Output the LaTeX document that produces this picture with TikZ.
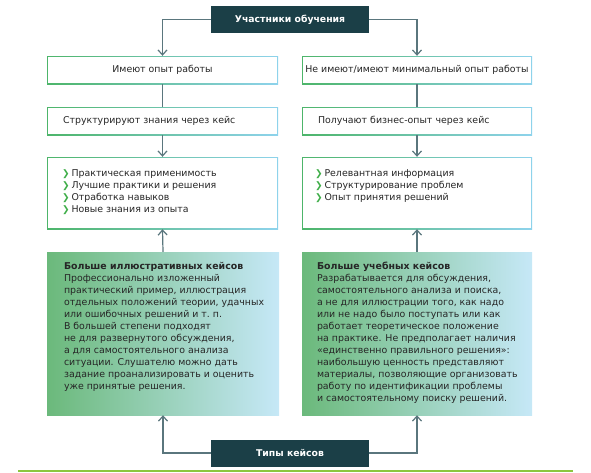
\documentclass[tikz,border=0pt]{standalone}
\usepackage{fontspec}
\setmainfont{DejaVu Sans}
\usetikzlibrary{arrows.meta}

\definecolor{headfill}{HTML}{1B3F47}
\definecolor{conngray}{HTML}{5A767D}
\definecolor{bordgreen}{HTML}{4DB56A}
\definecolor{bordblue}{HTML}{8ED3EC}
\definecolor{casegreen}{HTML}{6BB97B}
\definecolor{caseblue}{HTML}{C6E8F7}
\definecolor{chevgreen}{HTML}{3FAE49}
\definecolor{footgreen}{HTML}{8CC63F}

\newcommand{\chev}{{\color{chevgreen}\fontsize{9pt}{12pt}\selectfont\bfseries ❯}\hspace{2pt}}

\tikzset{
  bodyfont/.style={font={\fontsize{9.4pt}{12pt}\selectfont}},
  headbox/.style={fill=headfill, text=white, inner sep=0,
    minimum width=158, minimum height=27,
    font={\fontsize{9.3pt}{12pt}\selectfont\bfseries}},
  rowbox/.style={left color=bordgreen, right color=bordblue, inner sep=0,
    bodyfont, text=black!85,
    path picture={\fill[white]
      ([shift={(1pt,1pt)}]path picture bounding box.south west) rectangle
      ([shift={(-1pt,-1pt)}]path picture bounding box.north east);}},
  casebox/.style={left color=casegreen, right color=caseblue, inner sep=0},
  txt/.style={bodyfont, text=black!85, align=left, inner sep=0, anchor=north west},
  conn/.style={conngray, line width=1.2pt},
  arr/.style={conn, -{Straight Barb[length=5pt,width=9pt]}}
}

\begin{document}
\begin{tikzpicture}[x=1pt, y=-1pt]

  \useasboundingbox (0,0) rectangle (591,472);

  % top and bottom headers
  \node[headbox] (head) at (290,19.5) {Участники обучения};
  \node[headbox] (types) at (290,453) {Типы кейсов};

  % first row
  \node[rowbox, minimum width=231, minimum height=28] (l1) at (162.5,70)
    {Имеют опыт работы};
  \node[rowbox, minimum width=230, minimum height=28] (r1) at (417,70)
    {Не имеют/имеют минимальный опыт работы};

  % second row
  \node[rowbox, minimum height=28, inner xsep=16, text width=199, align=left]
    (l2) at (162.5,121) {Структурируют знания через кейс};
  \node[rowbox, minimum height=28, inner xsep=16, text width=198, align=left]
    (r2) at (417,121) {Получают бизнес-опыт через кейс};

  % third row
  \node[rowbox, minimum width=231, minimum height=72] (l3) at (162.5,193) {};
  \node[rowbox, minimum width=230, minimum height=72] (r3) at (417,193) {};

  \node[txt] (l3txt) at ([shift={(15,12.5)}]l3.north west)
    {\chev Практическая применимость\\
     \chev Лучшие практики и решения\\
     \chev Отработка навыков\\
     \chev Новые знания из опыта};
  \node[txt] (r3txt) at ([shift={(13,12.5)}]r3.north west)
    {\chev Релевантная информация\\
     \chev Структурирование проблем\\
     \chev Опыт принятия решений};

  % case types
  \node[casebox, minimum width=232, minimum height=163] (lc) at (163,333.5) {};
  \node[casebox, minimum width=230, minimum height=163] (rc) at (417,333.5) {};

  \node[txt] (lctxt) at ([shift={(17,10.5)}]lc.north west)
    {\textbf{Больше иллюстративных кейсов}\\
     Профессионально изложенный\\
     практический пример, иллюстрация\\
     отдельных положений теории, удачных\\
     или ошибочных решений и т.~п.\\
     В большей степени подходят\\
     не для развернутого обсуждения,\\
     а для самостоятельного анализа\\
     ситуации. Слушателю можно дать\\
     задание проанализировать и оценить\\
     уже принятые решения.};
  \node[txt] (rctxt) at ([shift={(15,10.5)}]rc.north west)
    {\textbf{Больше учебных кейсов}\\
     Разрабатывается для обсуждения,\\
     самостоятельного анализа и поиска,\\
     а не для иллюстрации того, как надо\\
     или не надо было поступать или как\\
     работает теоретическое положение\\
     на практике. Не предполагает наличия\\
     «единственно правильного решения»:\\
     наибольшую ценность представляют\\
     материалы, позволяющие организовать\\
     работу по идентификации проблемы\\
     и самостоятельному поиску решений.};

  % connectors
  \draw[arr] (head.west) -| (l1.north);
  \draw[arr] (head.east) -| (r1.north);
  \draw[conn] (l1.south) -- (l2.north);
  \draw[conn] (r1.south) -- (r2.north);
  \draw[arr] (l2.south) -- (l3.north);
  \draw[arr] (r2.south) -- (r3.north);
  \draw[arr] (lc.north) -- (l3.south);
  \draw[arr] (rc.north) -- (r3.south);
  \draw[arr] (types.west) -| (lc.south);
  \draw[arr] (types.east) -| (rc.south);

  \draw[footgreen, line width=2pt] (18,471) -- (573,471);

\end{tikzpicture}
\end{document}
